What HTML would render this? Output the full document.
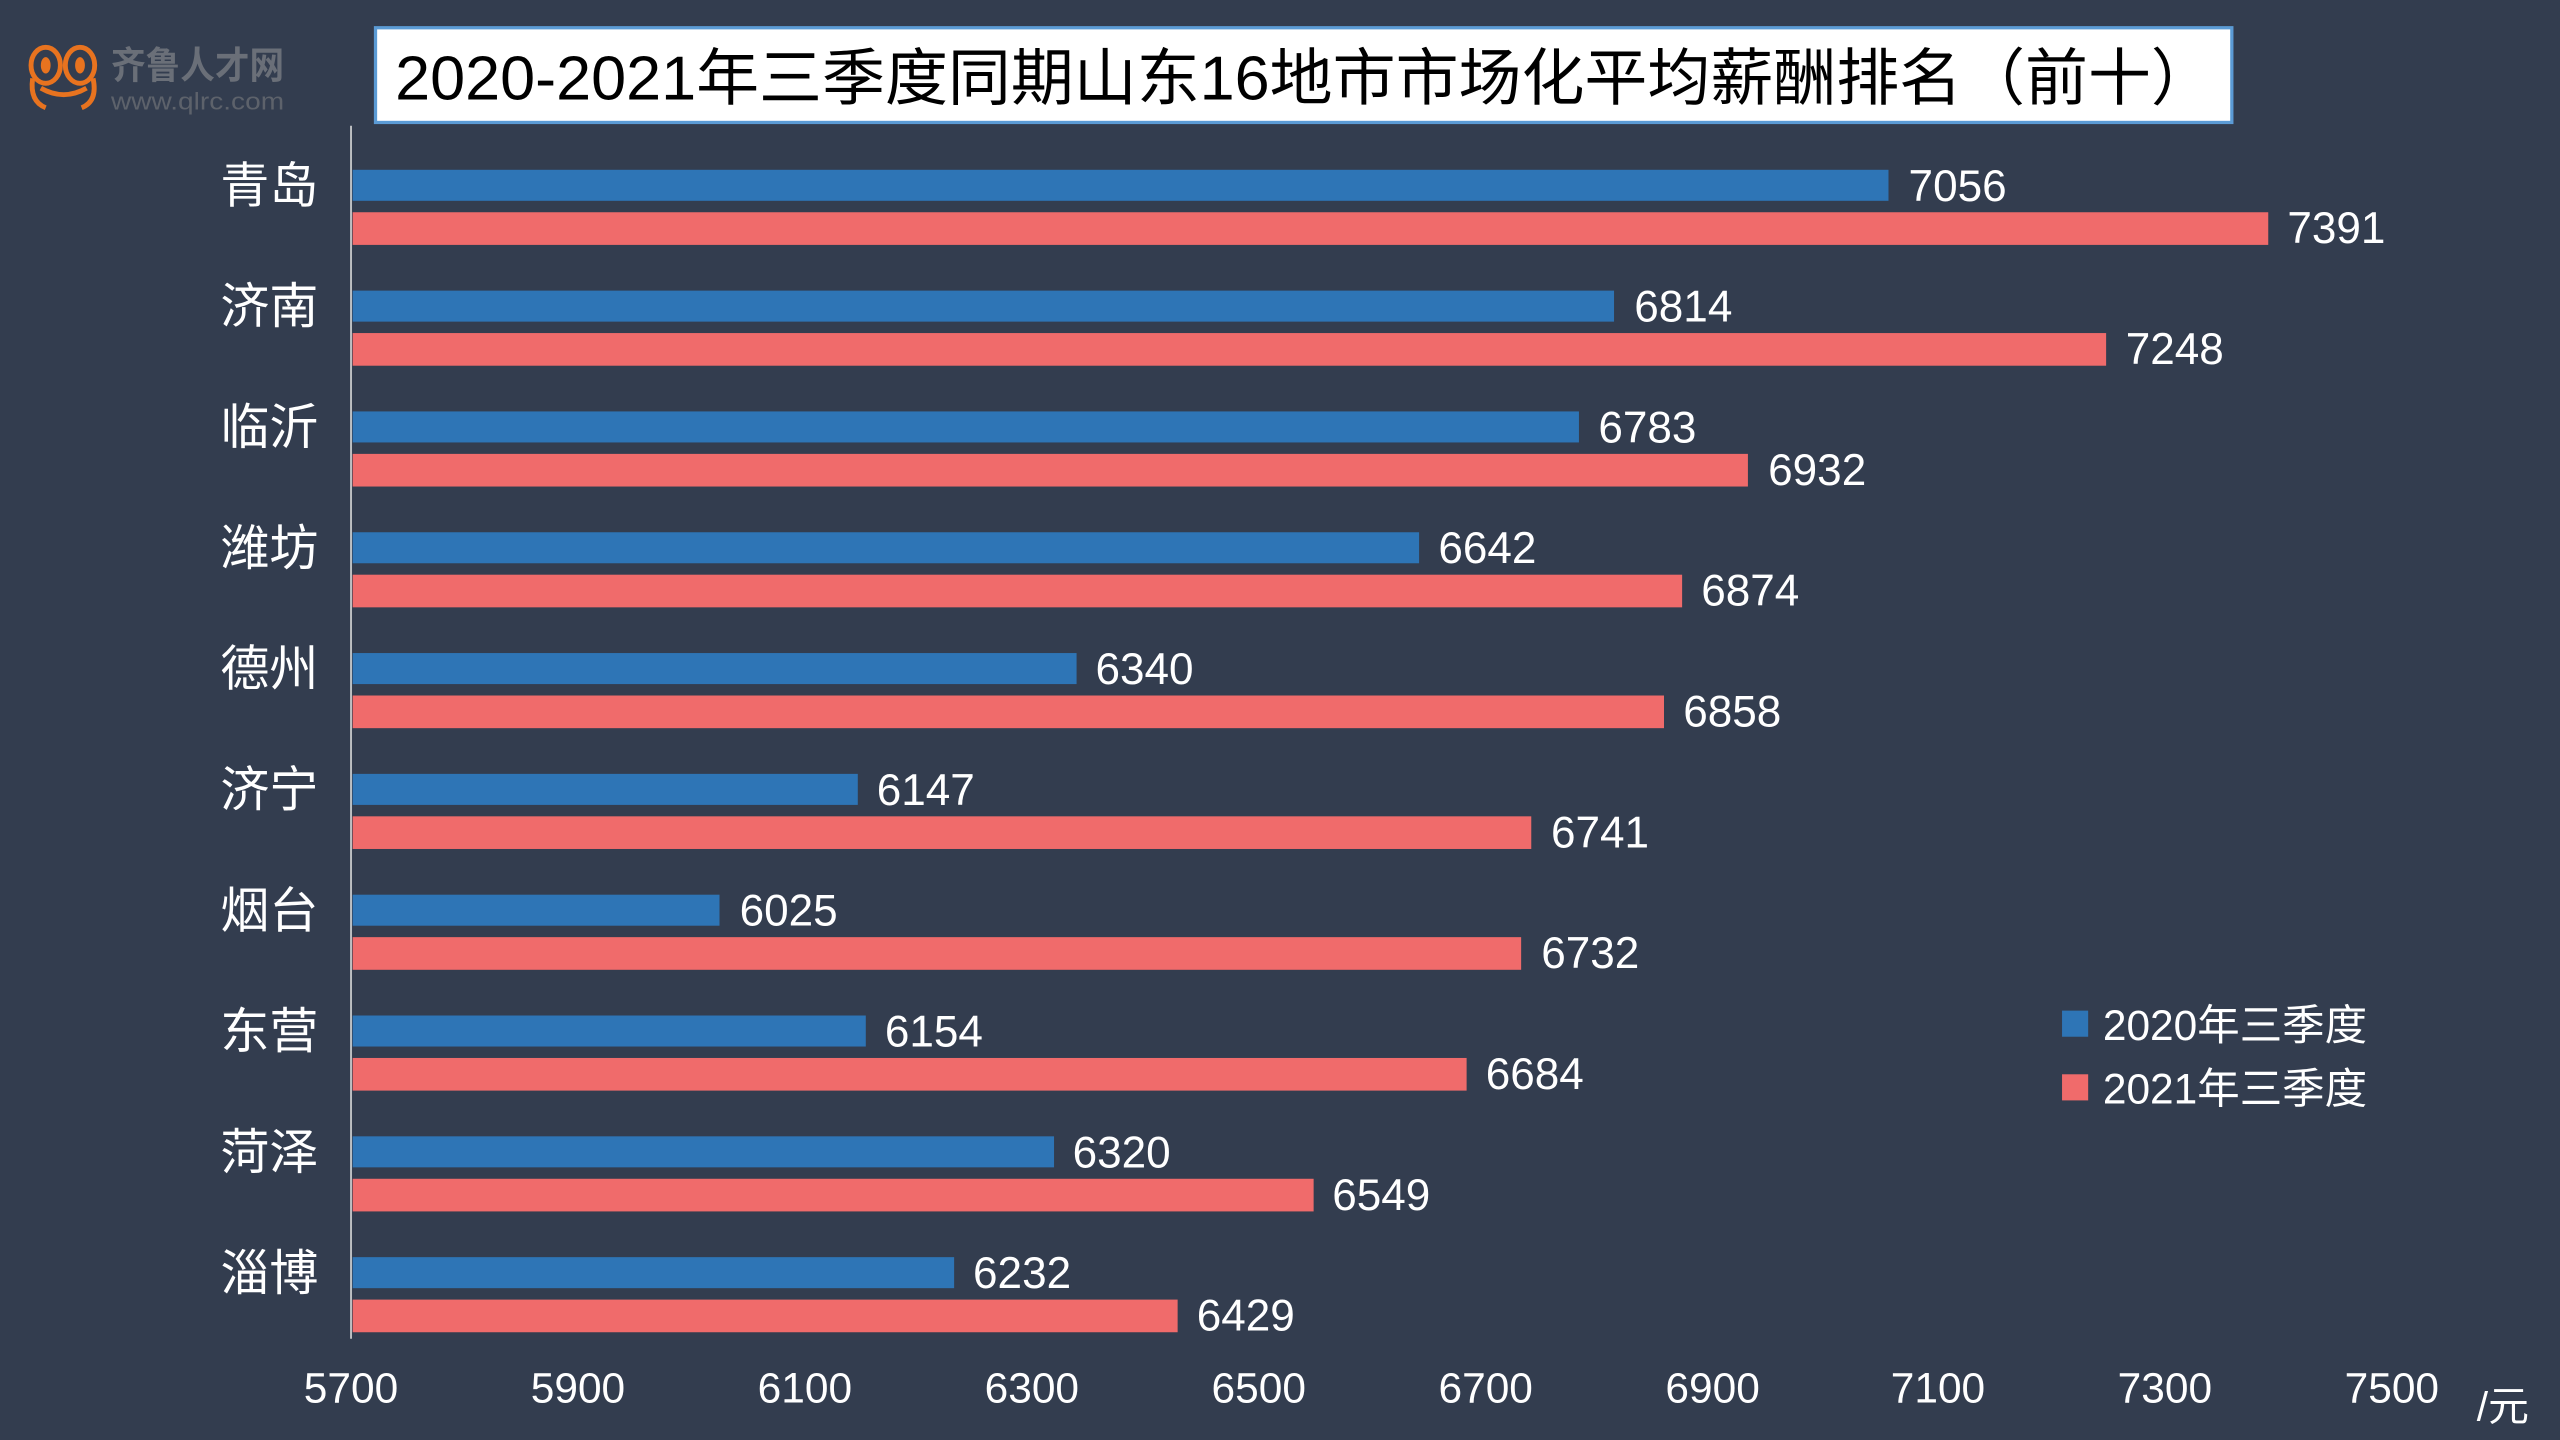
<!DOCTYPE html>
<html><head><meta charset="utf-8"><style>
html,body{margin:0;padding:0;background:#333d4f;}
svg{display:block;}
text{font-family:"Liberation Sans","Noto Sans CJK SC",sans-serif;}
</style></head><body>
<svg width="2560" height="1440" viewBox="0 0 1568 882" xmlns="http://www.w3.org/2000/svg">
<rect width="1568" height="882" fill="#333d4f"/>
<g fill="none" stroke="#e8731f" stroke-width="3">
<ellipse cx="28" cy="40" rx="9" ry="11"/><ellipse cx="49" cy="40" rx="9" ry="11"/>
<path d="M20 48 Q18 62 28 66 M57 48 Q60 62 50 66"/>
<path d="M25 54 Q39 62 53 54"/>
</g>
<ellipse cx="28" cy="40" rx="3" ry="5" fill="#e8731f"/><ellipse cx="49" cy="40" rx="3" ry="5" fill="#e8731f"/>
<text x="68" y="48" font-size="23" font-weight="bold" fill="#6a6f78" textLength="106" lengthAdjust="spacingAndGlyphs">齐鲁人才网</text>
<text x="68" y="67" font-size="15" fill="#5d626b" textLength="106" lengthAdjust="spacingAndGlyphs">www.qlrc.com</text>
<rect x="230" y="17" width="1137" height="58" fill="#fff" stroke="#5b9bd5" stroke-width="2"/>
<text x="242" y="61" font-size="38" fill="#000" textLength="1114" lengthAdjust="spacingAndGlyphs">2020-2021年三季度同期山东16地市市场化平均薪酬排名（前十）</text>
<line x1="215" y1="77" x2="215" y2="820" stroke="#d9d9d9" stroke-width="1"/>
<g fill="#2e75b6">
<rect x="216" y="104" width="940.7" height="19"/>
<rect x="216" y="178" width="772.6" height="19"/>
<rect x="216" y="252" width="751.1" height="19"/>
<rect x="216" y="326" width="653.2" height="19"/>
<rect x="216" y="400" width="443.4" height="19"/>
<rect x="216" y="474" width="309.4" height="19"/>
<rect x="216" y="548" width="224.7" height="19"/>
<rect x="216" y="622" width="314.3" height="19"/>
<rect x="216" y="696" width="429.6" height="19"/>
<rect x="216" y="770" width="368.4" height="19"/>
</g>
<g fill="#f06b6b">
<rect x="216" y="130" width="1173.3" height="20"/>
<rect x="216" y="204" width="1074" height="20"/>
<rect x="216" y="278" width="854.6" height="20"/>
<rect x="216" y="352" width="814.3" height="20"/>
<rect x="216" y="426" width="803.2" height="20"/>
<rect x="216" y="500" width="721.9" height="20"/>
<rect x="216" y="574" width="715.7" height="20"/>
<rect x="216" y="648" width="682.3" height="20"/>
<rect x="216" y="722" width="588.6" height="20"/>
<rect x="216" y="796" width="505.3" height="20"/>
</g>
<g font-size="27" fill="#fff">
<text x="1169" y="123">7056</text><text x="1401" y="149">7391</text>
<text x="1001" y="197">6814</text><text x="1302" y="223">7248</text>
<text x="979" y="271">6783</text><text x="1083" y="297">6932</text>
<text x="881" y="345">6642</text><text x="1042" y="371">6874</text>
<text x="671" y="419">6340</text><text x="1031" y="445">6858</text>
<text x="537" y="493">6147</text><text x="950" y="519">6741</text>
<text x="453" y="567">6025</text><text x="944" y="593">6732</text>
<text x="542" y="641">6154</text><text x="910" y="667">6684</text>
<text x="657" y="715">6320</text><text x="816" y="741">6549</text>
<text x="596" y="789">6232</text><text x="733" y="815">6429</text>
</g>
<g font-size="30" fill="#fff" text-anchor="end">
<text x="195" y="124">青岛</text>
<text x="195" y="198">济南</text>
<text x="195" y="272">临沂</text>
<text x="195" y="346">潍坊</text>
<text x="195" y="420">德州</text>
<text x="195" y="494">济宁</text>
<text x="195" y="568">烟台</text>
<text x="195" y="642">东营</text>
<text x="195" y="716">菏泽</text>
<text x="195" y="790">淄博</text>
</g>
<g font-size="26" fill="#fff" text-anchor="middle">
<text x="215" y="859">5700</text><text x="354" y="859">5900</text><text x="493" y="859">6100</text>
<text x="632" y="859">6300</text><text x="771" y="859">6500</text><text x="910" y="859">6700</text>
<text x="1049" y="859">6900</text><text x="1187" y="859">7100</text><text x="1326" y="859">7300</text>
<text x="1465" y="859">7500</text>
</g>
<text x="1517" y="870" font-size="25" fill="#fff">/元</text>
<rect x="1263" y="619" width="16" height="16" fill="#2e75b6"/>
<text x="1288" y="637" font-size="26" fill="#fff">2020年三季度</text>
<rect x="1263" y="658" width="16" height="16" fill="#f06b6b"/>
<text x="1288" y="676" font-size="26" fill="#fff">2021年三季度</text>
</svg>
</body></html>
